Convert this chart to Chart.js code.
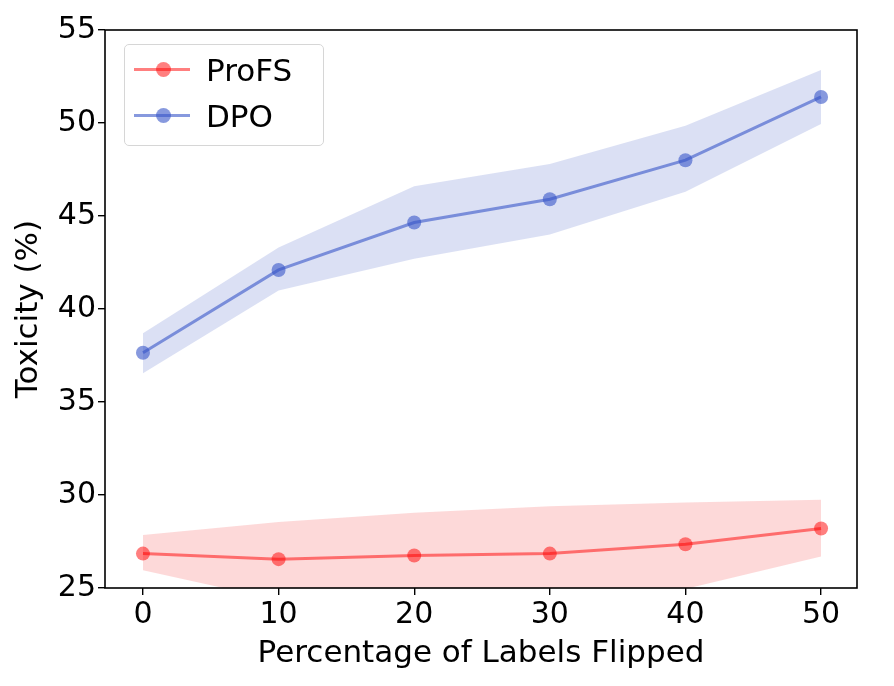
<!DOCTYPE html>
<html>
<head>
<meta charset="utf-8">
<script src="https://cdn.jsdelivr.net/npm/chart.js@4.4.1/dist/chart.umd.min.js"></script>
<style>
    html, body { margin: 0; padding: 0; background: #fff; }
    #wrap { position: relative; width: 894px; height: 686px; }
    #legend {
        position: absolute; left: 124px; top: 44px; width: 198px; height: 100px;
        border: 1.5px solid #d6d6d6; border-radius: 5px; background: rgba(255,255,255,0.8);
        font-family: "DejaVu Sans", sans-serif; font-size: 31px; color: #000;
    }
    .row { position: absolute; left: 0; height: 30px; display: flex; align-items: center; }
    .sample { position: relative; width: 56px; height: 30px; margin-left: 9px; }
    .sample .ln { position: absolute; left: 0; right: 0; top: 13px; height: 3px; }
    .sample .dot { position: absolute; left: 22px; top: 7px; width: 15px; height: 15px; border-radius: 50%; }
    .row span { margin-left: 16px; line-height: 30px; }
</style>
</head>
<body>
<div id="wrap">
    <canvas id="chart" width="894" height="686"></canvas>
    <div id="legend">
        <div class="row" style="top:10px"><div class="sample"><div class="ln" style="background:rgba(255,0,0,0.5)"></div><div class="dot" style="background:rgba(255,0,0,0.5)"></div></div><span>ProFS</span></div>
        <div class="row" style="top:56px"><div class="sample"><div class="ln" style="background:rgba(55,85,200,0.6)"></div><div class="dot" style="background:rgba(55,85,200,0.6)"></div></div><span>DPO</span></div>
    </div>
</div>
<script>
const flipped = [0, 10, 20, 30, 40, 50];
const xTicks = [0, 10, 20, 30, 40, 50];
const yTicks = [25, 30, 35, 40, 45, 50, 55];

const profsMean = [26.85, 26.55, 26.75, 26.85, 27.35, 28.2];
const profsLow = [25.95, 24.35, 24.2, 24.5, 24.95, 26.7];
const profsHigh = [27.85, 28.55, 29.05, 29.4, 29.6, 29.75];

const dpoMean = [37.65, 42.1, 44.65, 45.9, 48.0, 51.4];
const dpoLow = [36.55, 41.0, 42.7, 44.0, 46.3, 49.95];
const dpoHigh = [38.7, 43.3, 46.6, 47.8, 49.85, 52.85];

const red = 'rgba(255,0,0,0.5)';
const blue = 'rgba(55,85,200,0.6)';
const redFill = 'rgba(250,128,128,0.3)';
const blueFill = 'rgba(110,130,210,0.25)';

const pts = arr => arr.map((v, i) => ({ x: flipped[i], y: v }));

function band(low, high, color) {
    return [
        { data: pts(low), borderWidth: 0, pointRadius: 0, fill: false, order: 5 },
        { data: pts(high), borderWidth: 0, pointRadius: 0, fill: '-1', backgroundColor: color, order: 5 }
    ];
}

const frame = {
    id: 'frame',
    afterDraw(chart) {
        const a = chart.chartArea, ctx = chart.ctx;
        ctx.save();
        ctx.strokeStyle = '#000';
        ctx.lineWidth = 1.6;
        ctx.strokeRect(a.left, a.top, a.right - a.left, a.bottom - a.top);
        ctx.restore();
    }
};

const tickFont = { family: 'DejaVu Sans', size: 30 };
const titleFont = { family: 'DejaVu Sans', size: 31 };

new Chart(document.getElementById('chart'), {
    type: 'line',
    data: {
        datasets: [
            ...band(profsLow, profsHigh, redFill),
            ...band(dpoLow, dpoHigh, blueFill),
            { label: 'ProFS', data: pts(profsMean), borderColor: red, backgroundColor: red,
              borderWidth: 3, pointRadius: 7, pointBorderWidth: 0, fill: false, order: 1 },
            { label: 'DPO', data: pts(dpoMean), borderColor: blue, backgroundColor: blue,
              borderWidth: 3, pointRadius: 7, pointBorderWidth: 0, fill: false, order: 1 }
        ]
    },
    options: {
        responsive: false,
        animation: false,
        layout: { padding: { top: 30, right: 37, left: 0, bottom: 0 } },
        plugins: { legend: { display: false }, tooltip: { enabled: false } },
        scales: {
            x: {
                type: 'linear', min: -2.8, max: 52.65,
                afterBuildTicks: s => { s.ticks = xTicks.map(v => ({ value: v })); },
                afterFit: s => { s.height = 98; },
                grid: { drawOnChartArea: false, drawTicks: true, tickLength: 7, color: '#000', lineWidth: 1.4 },
                border: { display: false },
                ticks: { color: '#000', font: tickFont, padding: 2, maxRotation: 0 },
                title: { display: true, text: 'Percentage of Labels Flipped', color: '#000', font: titleFont, padding: { top: 0, bottom: 13 } }
            },
            y: {
                type: 'linear', min: 25, max: 55,
                afterBuildTicks: s => { s.ticks = yTicks.map(v => ({ value: v })); },
                afterFit: s => { s.width = 105; },
                grid: { drawOnChartArea: false, drawTicks: true, tickLength: 7, color: '#000', lineWidth: 1.4 },
                border: { display: false },
                ticks: { color: '#000', font: tickFont, padding: 2 },
                title: { display: true, text: 'Toxicity (%)', color: '#000', font: titleFont, padding: { top: 10, bottom: 0 } }
            }
        }
    },
    plugins: [frame]
});
</script>
</body>
</html>
